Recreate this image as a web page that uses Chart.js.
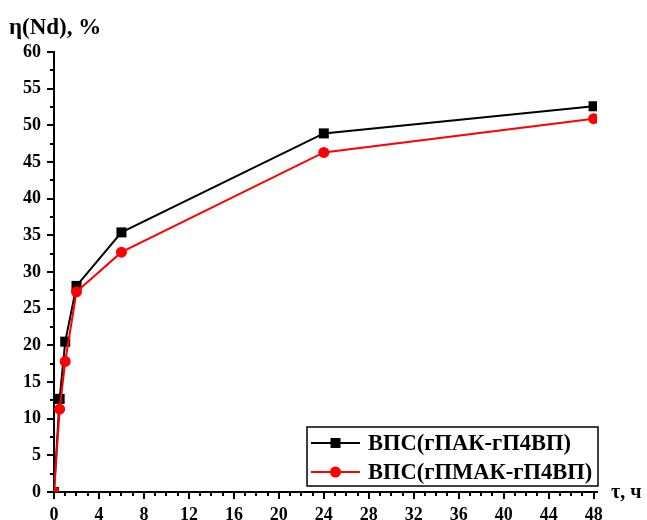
<!DOCTYPE html>
<html>
<head>
<meta charset="utf-8">
<script src="https://cdn.jsdelivr.net/npm/chart.js@4.4.1/dist/chart.umd.min.js"></script>
<style>
  html, body { margin: 0; padding: 0; background: #fff; }
  #wrap { position: relative; width: 647px; height: 520px; }
</style>
</head>
<body>
<div id="wrap"><canvas id="c" width="647" height="520"></canvas></div>
<script>
// Sorption time, hours
const hours = [0, 0.5, 1, 2, 6, 24, 48];
// Nd extraction degree, %
const gpak = [0, 12.7, 20.5, 28.1, 35.4, 48.9, 52.6];
const gpmak = [0, 11.3, 17.8, 27.3, 32.7, 46.3, 50.9];

const seriesNames = ['ВПС(гПАК-гП4ВП)', 'ВПС(гПМАК-гП4ВП)'];
const xMajorTicks = [0, 4, 8, 12, 16, 20, 24, 28, 32, 36, 40, 44, 48];
const yMajorTicks = [0, 5, 10, 15, 20, 25, 30, 35, 40, 45, 50, 55, 60];
const xMinorStep = 1;
const yMinorStep = 2.5;

const yTitle = 'η(Nd), %';
const xTitle = 'τ, ч';

const FONT = "'Liberation Serif', 'Times New Roman', serif";

function toPoints(xs, ys) {
  return xs.map((x, i) => ({ x: x, y: ys[i] }));
}

// Outward tick marks (major + minor), axis titles and the boxed legend
const decor = {
  id: 'decor',
  afterDraw(chart) {
    const ctx = chart.ctx;
    const xs = chart.scales.x, ys = chart.scales.y;
    const area = chart.chartArea;
    ctx.save();
    ctx.strokeStyle = '#000';
    ctx.lineWidth = 2;
    ctx.lineCap = 'butt';
    // x ticks
    for (let v = 0; v <= 48 + 1e-9; v += xMinorStep) {
      const px = Math.round(xs.getPixelForValue(v));
      const major = xMajorTicks.includes(v);
      ctx.beginPath();
      ctx.moveTo(px, area.bottom);
      ctx.lineTo(px, area.bottom + (major ? 7 : 4));
      ctx.stroke();
    }
    // y ticks
    for (let v = 0; v <= 60 + 1e-9; v += yMinorStep) {
      const py = Math.round(ys.getPixelForValue(v));
      const major = yMajorTicks.includes(v);
      ctx.beginPath();
      ctx.moveTo(area.left, py);
      ctx.lineTo(area.left - (major ? 7 : 4), py);
      ctx.stroke();
    }

    // axis titles
    ctx.fillStyle = '#000';
    ctx.font = 'bold 23px ' + FONT;
    ctx.textAlign = 'left';
    ctx.textBaseline = 'alphabetic';
    ctx.fillText(yTitle, 9, 34);
    ctx.font = 'bold 20px ' + FONT;
    ctx.fillText(xTitle, 611, 498);

    // legend box
    const lx = 307, ly = 427, lw = 291, lh = 59;
    ctx.fillStyle = '#fff';
    ctx.fillRect(lx, ly, lw, lh);
    ctx.lineWidth = 1.5;
    ctx.strokeStyle = '#000';
    ctx.strokeRect(lx, ly, lw, lh);
    const rows = [ly + 16, ly + 45];
    chart.data.datasets.forEach((ds) => {
      const cy = rows[ds.legendIndex];
      ctx.strokeStyle = ds.borderColor;
      ctx.lineWidth = 2;
      ctx.beginPath();
      ctx.moveTo(311, cy);
      ctx.lineTo(360, cy);
      ctx.stroke();
      ctx.fillStyle = ds.pointBackgroundColor;
      if (ds.pointStyle === 'rect') {
        ctx.fillRect(335.5 - 5, cy - 5, 10, 10);
      } else {
        ctx.beginPath();
        ctx.arc(335.5, cy, 5.5, 0, Math.PI * 2);
        ctx.fill();
      }
      ctx.fillStyle = '#000';
      ctx.font = 'bold 22.5px ' + FONT;
      ctx.textBaseline = 'middle';
      ctx.fillText(ds.label, 368, cy + 1);
    });
    ctx.restore();
  }
};

new Chart(document.getElementById('c'), {
  type: 'line',
  data: {
    datasets: [
      {
        label: seriesNames[1],
        legendIndex: 1,
        data: toPoints(hours, gpmak),
        borderColor: '#ff0000',
        backgroundColor: '#ff0000',
        pointBackgroundColor: '#ff0000',
        pointBorderColor: '#ff0000',
        pointStyle: 'circle',
        pointRadius: 5.5,
        pointBorderWidth: 0,
        borderWidth: 2,
        tension: 0,
        order: 0,
        clip: 0
      },
      {
        label: seriesNames[0],
        legendIndex: 0,
        data: toPoints(hours, gpak),
        borderColor: '#000000',
        backgroundColor: '#000000',
        pointBackgroundColor: '#000000',
        pointBorderColor: '#000000',
        pointStyle: 'rect',
        pointRadius: 7.1,
        pointBorderWidth: 0,
        borderWidth: 2,
        tension: 0,
        order: 1,
        clip: 0
      }
    ]
  },
  options: {
    responsive: false,
    animation: false,
    devicePixelRatio: 1,
    layout: { padding: { left: 0, top: 52, right: 50, bottom: 0 } },
    plugins: {
      legend: { display: false },
      tooltip: { enabled: false }
    },
    scales: {
      x: {
        type: 'linear',
        min: 0,
        max: 48.3,
        afterBuildTicks(scale) { scale.ticks = xMajorTicks.map(v => ({ value: v })); },
        afterFit(scale) { scale.height = 28; },
        grid: { display: true, drawOnChartArea: false, drawTicks: false },
        border: { display: true, color: '#000', width: 2 },
        ticks: {
          color: '#000',
          padding: 13,
          maxRotation: 0,
          font: { family: FONT, size: 18, weight: 'bold' }
        }
      },
      y: {
        type: 'linear',
        min: 0,
        max: 60,
        afterBuildTicks(scale) { scale.ticks = yMajorTicks.map(v => ({ value: v })); },
        afterFit(scale) { scale.width = 54; },
        grid: { display: true, drawOnChartArea: false, drawTicks: false },
        border: { display: true, color: '#000', width: 2 },
        ticks: {
          color: '#000',
          padding: 13,
          font: { family: FONT, size: 18, weight: 'bold' }
        }
      }
    }
  },
  plugins: [decor]
});
</script>
</body>
</html>
